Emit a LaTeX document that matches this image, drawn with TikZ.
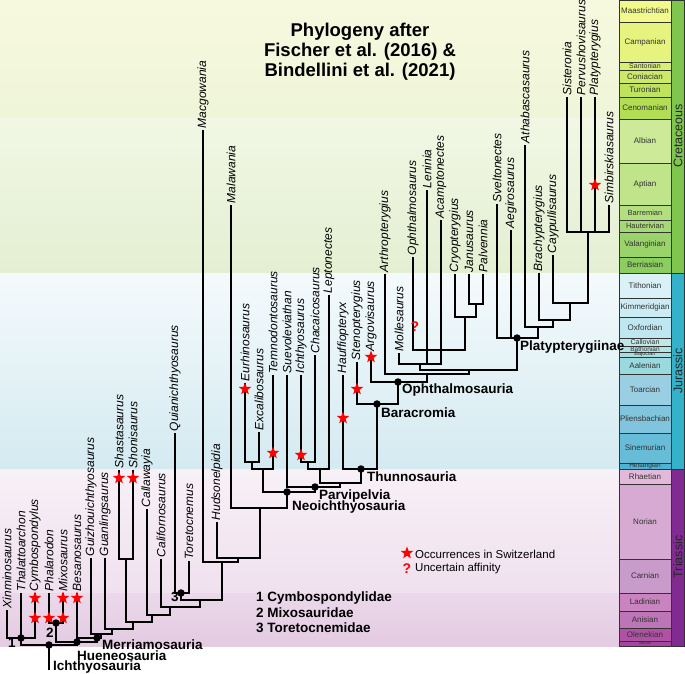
\documentclass[tikz,border=0pt]{standalone}
\usepackage{fontspec}
\setmainfont{Liberation Sans}
\usetikzlibrary{shapes.geometric}
% stage colours
\definecolor{cMaa}{HTML}{F2FA8C}\definecolor{cCam}{HTML}{E6F47F}\definecolor{cSan}{HTML}{D9EF74}
\definecolor{cCon}{HTML}{CCE968}\definecolor{cTur}{HTML}{BFE35D}\definecolor{cCen}{HTML}{B3DE53}
\definecolor{cAlb}{HTML}{CCEA97}\definecolor{cApt}{HTML}{BFE48A}\definecolor{cBar}{HTML}{B3DF7F}
\definecolor{cHau}{HTML}{A6D975}\definecolor{cVal}{HTML}{99D36A}\definecolor{cBer}{HTML}{8CCD60}
\definecolor{cTit}{HTML}{D9F1F7}\definecolor{cKim}{HTML}{CCECF4}\definecolor{cOxf}{HTML}{BFE7F1}
\definecolor{cCal}{HTML}{BFE7E5}\definecolor{cBat}{HTML}{B3E2E3}\definecolor{cBaj}{HTML}{A6DDE0}
\definecolor{cAal}{HTML}{9AD9DD}\definecolor{cToa}{HTML}{99CEE3}\definecolor{cPli}{HTML}{80C5DD}
\definecolor{cSin}{HTML}{67BCD8}\definecolor{cHet}{HTML}{4EB3D3}
\definecolor{cRha}{HTML}{E3B9DB}\definecolor{cNor}{HTML}{D6AAD3}\definecolor{cCar}{HTML}{C99BCB}
\definecolor{cLad}{HTML}{C983BF}\definecolor{cAni}{HTML}{BC75B7}\definecolor{cOle}{HTML}{B051A5}
\definecolor{cInd}{HTML}{A4469F}
\definecolor{cCre}{HTML}{7FC64E}\definecolor{cJur}{HTML}{34B2C9}\definecolor{cTri}{HTML}{812B92}
% background colours
\definecolor{bgA}{HTML}{F7F9DE}\definecolor{bgB}{HTML}{EFF5D9}
\definecolor{bgC}{HTML}{F1F7E4}\definecolor{bgD}{HTML}{E4EFD2}
\definecolor{bgE}{HTML}{F4FAFC}\definecolor{bgF}{HTML}{D4EAF1}
\definecolor{bgG}{HTML}{F8F0F7}\definecolor{bgH}{HTML}{EFE1EE}
\definecolor{bgI}{HTML}{EBD8EA}\definecolor{bgJ}{HTML}{E3CBE2}
\begin{document}
\begin{tikzpicture}[x=1pt,y=-1pt,
  br/.style={line width=1.5pt},
  taxon/.style={rotate=90,anchor=west,inner sep=1.5pt,font=\fontsize{12}{12}\selectfont\itshape},
  clade/.style={anchor=west,inner sep=0pt,font=\fontsize{13.5}{14}\selectfont\bfseries},
  dotn/.style={circle,fill=black,inner sep=0pt,minimum size=7.5pt},
  redstar/.style={star,star points=5,star point ratio=2.4,fill=red,inner sep=0pt,minimum size=13pt},
  stagebox/.style={draw=black!80,line width=0.6pt},
  stagetxt/.style={inner sep=0pt,text=black!80},
  periodtxt/.style={rotate=90,inner sep=0pt,font=\fontsize{12.5}{13}\selectfont,text=black!85},
]
\useasboundingbox (0,0) rectangle (685,674);
% ---------- background bands
\shade[top color=bgA,bottom color=bgB] (0,0) rectangle (619,119);
\shade[top color=bgC,bottom color=bgD] (0,119) rectangle (619,273);
\shade[top color=bgE,bottom color=bgF] (0,273) rectangle (619,469);
\shade[top color=bgG,bottom color=bgH] (0,469) rectangle (619,593);
\shade[top color=bgI,bottom color=bgJ] (0,593) rectangle (619,646);
% ---------- stage column
\foreach \a/\b/\c/\n/\f [count=\i] in {
  0/22/cMaa/Maastrichtian/8, 22/62/cCam/Campanian/8, 62/70/cSan/Santonian/7,
  70/83/cCon/Coniacian/8, 83/97/cTur/Turonian/8, 97/119/cCen/Cenomanian/8,
  119/163/cAlb/Albian/8, 163/205/cApt/Aptian/8, 205/220/cBar/Barremian/7.5,
  220/232/cHau/Hauterivian/7.5, 232/257/cVal/Valanginian/8, 257/273/cBer/Berriasian/8,
  273/298/cTit/Tithonian/8, 298/317/cKim/Kimmeridgian/8, 317/338/cOxf/Oxfordian/8,
  338/346/cCal/Callovian/7, 346/352/cBat/Bathonian/6.5, 352/357/cBaj/Bajocian/5.5,
  357/374/cAal/Aalenian/8, 374/405/cToa/Toarcian/8, 405/433/cPli/Pliensbachian/8,
  433/463/cSin/Sinemurian/8, 463/469/cHet/Hettangian/6.5,
  469/484/cRha/Rhaetian/8, 484/559/cNor/Norian/8, 559/593/cCar/Carnian/8,
  593/611/cLad/Ladinian/8, 611/628/cAni/Anisian/8, 628/641/cOle/Olenekian/8,
  641/646/cInd/Induan/4}
{
  \draw[stagebox,fill=\c] (619,\a) rectangle (671,\b);
  \node[stagetxt,font=\fontsize{\f}{\f}\selectfont] (st\i) at (645,{(\a+\b)/2}) {\n};
}
% ---------- period column
\draw[stagebox,fill=cCre] (671,0) rectangle (684.5,273);
\draw[stagebox,fill=cJur] (671,273) rectangle (684.5,469);
\draw[stagebox,fill=cTri] (671,469) rectangle (684.5,646);
\node[periodtxt] (pCre) at (678,136) {Cretaceous};
\node[periodtxt] (pJur) at (678,371) {Jurassic};
\node[periodtxt] (pTri) at (678,557) {Triassic};
% ---------- title
\node[font=\fontsize{18.5}{20}\selectfont\bfseries,align=center] (title) at (360,52)
  {Phylogeny after\\Fischer et al. (2016) \&\\Bindellini et al. (2021)};
% ---------- terminal taxa
\foreach \k/\x/\y/\n in {
  Xin/7/610/Xinminosaurus, Tha/21/593/Thalattoarchon, Cym/35/593/Cymbospondylus,
  Pha/49/593/Phalarodon, Mix/63/593/Mixosaurus, Bes/77/593/Besanosaurus,
  Gui/91/558/Guizhouichthyosaurus, Gua/105/558/Guanlingsaurus, Sha/119/470/Shastasaurus,
  Sho/133/470/Shonisaurus, Cal/147/509/Callawayia, Cfo/161/559/Californosaurus,
  Qui/175/433/Quianichthyosaurus, Tor/189/561/Toretocnemus, Mac/203/130/Macgowania,
  Hud/217/522/Hudsonelpidia, Mal/231/205/Malawania, Eur/245/383/Eurhinosaurus,
  Exc/259/432/Excalibosaurus, Tem/273/375/Temnodontosaurus, Sue/287/375/Suevoleviathan,
  Ich/301/375/Ichthyosaurus, Cha/315/355/Chacaicosaurus, Lep/329/295/Leptonectes,
  Hau/343/375/Hauffiopteryx, Ste/357/362/Stenopterygius, Arg/371/353/Argovisaurus,
  Art/385/274/Arthropterygius, Mol/399/353/Mollesaurus, Oph/413/257/Ophthalmosaurus,
  Len/427/190/Leninia, Aca/441/220/Acamptonectes, Cry/455/274/Cryopterygius,
  Jan/469/274/Janusaurus, Pal/483/274/Palvennia, Sve/497/204/Sveltonectes,
  Aeg/511/230/Aegirosaurus, Ath/525/145/Athabascasaurus, Bra/539/273/Brachypterygius,
  Cay/553/255/Caypullisaurus, Sis/567/97/Sisteronia, Per/581/97/Pervushovisaurus,
  Pla/595/97/Platypterygius, Sim/609/205/Simbirskiasaurus}
{
  \coordinate (\k) at (\x,\y);
  \node[taxon] (L\k) at (\k) {\n};
}
% ---------- internal nodes
\foreach \k/\x/\y in {
  nC1/21/638, nIch/49/645, nMxs/56/623, nHue/77/642, nMer/97/638, nM2/101/634,
  nM3/112/629, nShS/126/559, nM4/133/622, nM5/152/615, nM6/170/607, nTor/181/593,
  nM7/200/600, nM8/222/562, nM9/238/558, nM10/260/508, nNeo/287/492, nEE/252/462,
  nTem/263/469, nPar/315/487, nLT/340/483, nIC/308/462, nLep/320/469, nThu/361/469,
  nBar/377/404, nOph/398/382, nO2/427/374, nO3/469/370, nO4/420/364, nO5/427/350,
  nCJ/465/317, nJP/476/304, nPla/517/338, nP2/538/327, nP3/553/320, nP4/570/303,
  nP5/588/232}
{ \coordinate (\k) at (\x,\y); }
\coordinate (root) at (49,670);
% ---------- branches
\foreach \c/\p in {
  Xin/nC1, Tha/nC1, Cym/nC1, nC1/nIch, nHue/nIch,
  Pha/nMxs, Mix/nMxs, nMxs/nHue, nMer/nHue,
  Bes/nMer, nM2/nMer, Gui/nM2, nM3/nM2, Gua/nM3, nM4/nM3,
  Sha/nShS, Sho/nShS, nShS/nM4, nM5/nM4, Cal/nM5, nM6/nM5,
  Cfo/nM6, nM7/nM6, Qui/nTor, Tor/nTor, nTor/nM7, nM8/nM7,
  Mac/nM8, nM9/nM8, Hud/nM9, nM10/nM9, Mal/nM10, nNeo/nM10,
  Eur/nEE, Exc/nEE, nEE/nTem, Tem/nTem, nTem/nNeo, nPar/nNeo,
  Sue/nPar, nLT/nPar, Ich/nIC, Cha/nIC, nIC/nLep, Lep/nLep, nLep/nLT, nThu/nLT,
  Hau/nThu, nBar/nThu, Ste/nBar, nOph/nBar, Arg/nOph, nO2/nOph,
  Art/nO2, nO3/nO2, nO4/nO3, nPla/nO3, Mol/nO4, nO5/nO4, Aca/nO4,
  Oph/nO5, Len/nO5, nCJ/nO5, Cry/nCJ, nJP/nCJ, Jan/nJP, Pal/nJP,
  Sve/nPla, Aeg/nPla, nP2/nPla, Ath/nP2, nP3/nP2, Bra/nP3, nP4/nP3,
  Cay/nP4, nP5/nP4, Sis/nP5, Per/nP5, Pla/nP5, Sim/nP5}
{ \draw[br] (\c) |- (\p); }
\draw[br] (nIch) -- (root);
% ---------- clade dots
\foreach \k in {nC1,nIch,nMxs,nHue,nMer,nTor,nNeo,nPar,nThu,nBar,nOph,nPla}
{ \node[dotn] (D\k) at (\k) {}; }
% ---------- stars (occurrences in Switzerland)
\foreach \x/\y [count=\i] in {35/598, 35/618, 49/618, 63/598, 63/618, 77/598,
  119/478, 133/478, 245/389, 273/453, 301/455, 343/418, 357/389, 371/357, 595/185}
{ \node[redstar] (S\i) at (\x,\y) {}; }
\node[text=red,inner sep=0pt,font=\fontsize{14}{14}\selectfont\bfseries] (qm) at (415,327) {?};
% ---------- clade labels
\node[clade] (lMer) at (102,645) {Merriamosauria};
\node[clade] (lHue) at (77,656) {Hueneosauria};
\node[clade] (lIch) at (53,667) {Ichthyosauria};
\node[clade] (l1) at (8,643) {1};
\node[clade] (l2) at (46,633) {2};
\node[clade] (l3) at (171,597) {3};
\node[clade] (lNeo) at (292,507) {Neoichthyosauria};
\node[clade] (lPar) at (319,496) {Parvipelvia};
\node[clade] (lThu) at (367,477) {Thunnosauria};
\node[clade] (lBar) at (381,413) {Baracromia};
\node[clade] (lOph) at (402,390) {Ophthalmosauria};
\node[clade] (lPla) at (520,347) {Platypterygiinae};
% ---------- legends
\node[clade] (k1) at (256,598) {1 Cymbospondylidae};
\node[clade] (k2) at (256,613) {2 Mixosauridae};
\node[clade] (k3) at (256,628) {3 Toretocnemidae};
\node[redstar] (kS) at (407,553) {};
\node[text=red,inner sep=0pt,font=\fontsize{14}{14}\selectfont\bfseries] (kQ) at (407,569) {?};
\node[anchor=west,inner sep=0pt,font=\fontsize{11.5}{12}\selectfont] (kSt) at (415,554) {Occurrences in Switzerland};
\node[anchor=west,inner sep=0pt,font=\fontsize{11.5}{12}\selectfont] (kQt) at (415,569) {Uncertain affinity};
\end{tikzpicture}
\end{document}
